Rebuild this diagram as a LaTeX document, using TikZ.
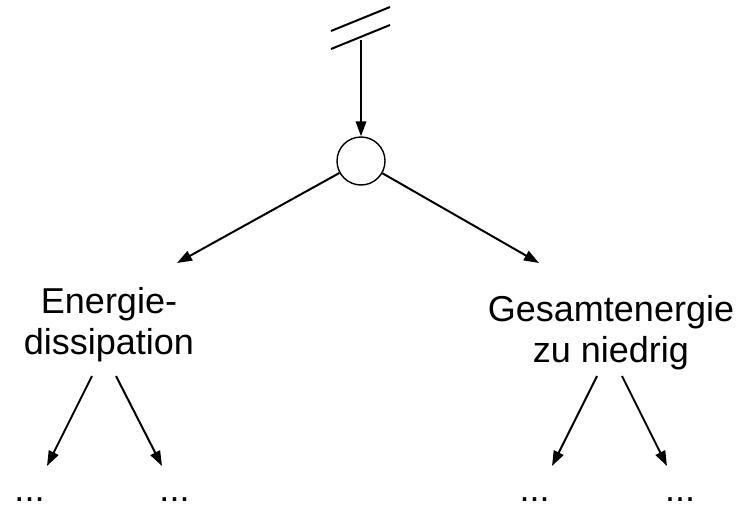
\documentclass[tikz,border=0pt]{standalone}
\usepackage{fontspec}
\setmainfont{Liberation Sans}
\usetikzlibrary{arrows.meta}
\begin{document}
\begin{tikzpicture}[x=1pt,y=-1pt,
  arr/.style={line width=2pt,-{Triangle[length=15pt,width=10.5pt]}},
  lbl/.style={font=\fontsize{36}{41}\selectfont,align=center,inner sep=0pt,anchor=base},
  dots/.style={font=\fontsize{36}{41}\selectfont,inner sep=0pt,anchor=base},
  junction/.style={circle,draw,line width=1.4pt,minimum size=48pt,inner sep=0pt}]
\useasboundingbox (0,0) rectangle (749,506);
% break symbol
\draw[line width=2pt] (331,31) -- (390,7);
\draw[line width=2pt] (331,49) -- (390,25);
\coordinate (top) at (361,40);
\node[junction] (c) at (361,161) {};
\draw[arr] (top) -- (c);
% labels
\node[lbl] (e) at (109,354) {Energie-\\dissipation};
\node[lbl] (g) at (611,362) {Gesamtenergie\\zu niedrig};
\coordinate (eIn) at (177,263);
\coordinate (gIn) at (539,263);
\draw[arr] (c) -- (eIn);
\draw[arr] (c) -- (gIn);
% dots
\node[dots] (d1) at (29.5,501) {...};
\node[dots] (d2) at (174.5,501) {...};
\node[dots] (d3) at (534.5,501) {...};
\node[dots] (d4) at (680,501) {...};
\coordinate (e1) at (92,376);
\coordinate (e2) at (116,376);
\coordinate (g1) at (597,376);
\coordinate (g2) at (622,376);
\coordinate (t1) at (47,466);
\coordinate (t2) at (162,466);
\coordinate (t3) at (552,466);
\coordinate (t4) at (667,466);
\draw[arr] (e1) -- (t1);
\draw[arr] (e2) -- (t2);
\draw[arr] (g1) -- (t3);
\draw[arr] (g2) -- (t4);
\end{tikzpicture}
\end{document}
